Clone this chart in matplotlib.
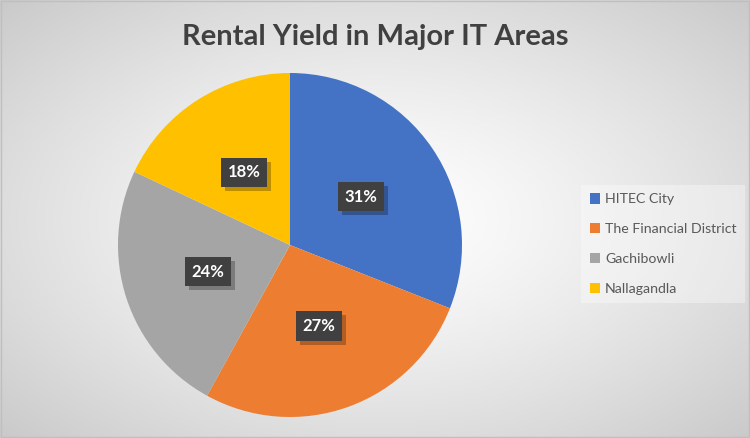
import numpy as np
import matplotlib.pyplot as plt
import matplotlib.patheffects as pe

areas = ['HITEC City', 'The Financial District', 'Gachibowli', 'Nallagandla']
shares = [31, 27, 24, 18]
colors = ['#4472c4', '#ed7d31', '#a5a5a5', '#ffc000']

W, H = 750, 438
fig = plt.figure(figsize=(W / 100, H / 100), dpi=100)

# radial gradient background
bg = fig.add_axes([0, 0, 1, 1])
yy, xx = np.mgrid[0:H, 0:W]
d = np.sqrt(((xx - W / 2) / (W / 2)) ** 2 + ((yy - H / 2) / (H / 2)) ** 2) / np.sqrt(2)
g = 1.0 - 0.21 * np.clip(d, 0, 1) ** 1.3
bg.imshow(np.dstack([g, g, g]), extent=[0, 1, 0, 1], aspect='auto')
bg.set_xlim(0, 1)
bg.set_ylim(0, 1)
bg.axis('off')
bg.add_patch(plt.Rectangle((0.001, 0.002), 0.998, 0.996, fill=False,
                           edgecolor='#bfbfbf', lw=1, transform=bg.transAxes))

fig.text(0.5, 1 - 37 / H, 'Rental Yield in Major IT Areas', ha='center', va='center',
         fontsize=21, fontweight='bold', color='#404040', family='Lato')

# pie
cx, cy, r = 290, H - 245, 172
ax = fig.add_axes([(cx - r) / W, (cy - r) / H, 2 * r / W, 2 * r / H])
wedges, _ = ax.pie(shares, colors=colors, startangle=90, counterclock=False,
                   radius=1.0, wedgeprops=dict(linewidth=0))
ax.set_xlim(-1, 1)
ax.set_ylim(-1, 1)
ax.set_aspect('equal')
ax.axis('off')

total = sum(shares)
start = 90
for v in shares:
    mid = np.deg2rad(start - v / total * 180)
    start -= v / total * 360
    x, y = 0.5 * np.cos(mid), 0.5 * np.sin(mid)
    t = ax.text(x, y, f'{v}%', ha='center', va='center', fontsize=12, fontweight='bold',
                color='white', family='Lato',
                bbox=dict(boxstyle='square,pad=0.4', fc='#404040', ec='none'))
    t.get_bbox_patch().set_path_effects([
        pe.SimplePatchShadow(offset=(3, -3), shadow_rgbFace='black', alpha=0.25),
        pe.Normal()])

leg = fig.legend(wedges, areas, loc='center left', bbox_to_anchor=(574 / W, 1 - 244 / H),
                 frameon=True, fancybox=False, handlelength=0.75, handleheight=0.75,
                 handletextpad=0.35, labelspacing=1.25, borderpad=0.6,
                 prop=dict(family='Lato', size=10.2))
leg.get_frame().set_facecolor('white')
leg.get_frame().set_alpha(0.35)
leg.get_frame().set_edgecolor('none')
for t in leg.get_texts():
    t.set_color('#595959')

fig.savefig('out.png', dpi=100)
